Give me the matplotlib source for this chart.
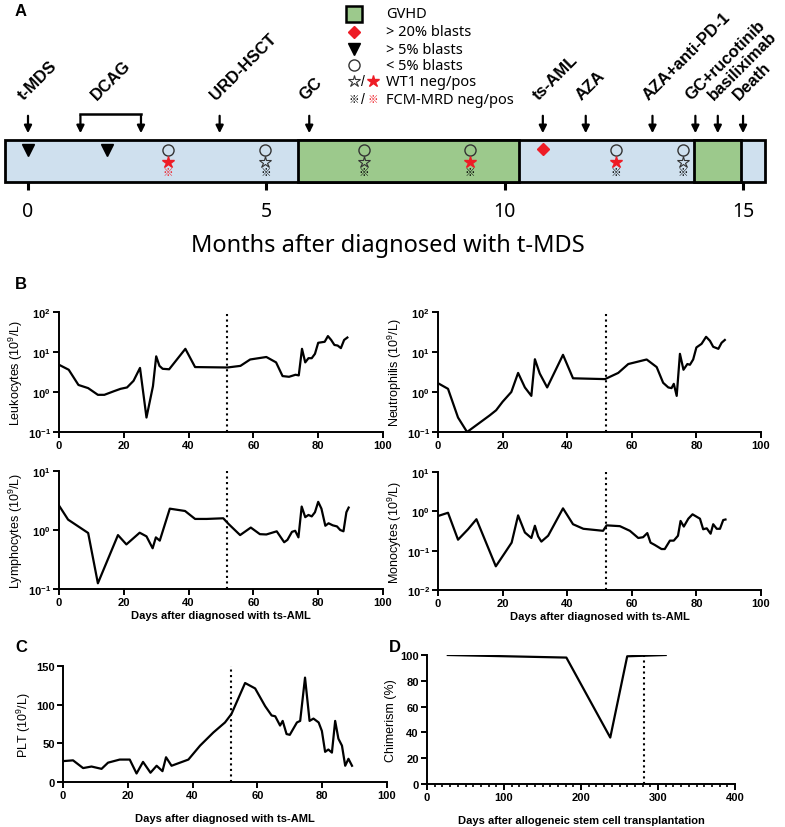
import numpy as np
import matplotlib.pyplot as plt
from matplotlib.patches import Rectangle
from matplotlib.ticker import MultipleLocator, NullLocator

plt.rcParams["font.family"] = ["Liberation Sans", "DejaVu Sans"]
plt.rcParams["mathtext.fontset"] = "custom"
plt.rcParams["mathtext.rm"] = "Liberation Sans"
plt.rcParams["mathtext.bf"] = "Liberation Sans:bold"

# ---------------- data ----------------
# panel A (months after t-MDS)
events = ["t-MDS", "URD-HSCT", "GC", "ts-AML", "AZA", "AZA+anti-PD-1",
          "GC+rucotinib", "basiliximab", "Death"]
event_month = [0, 4.02, 5.9, 10.8, 11.7, 13.1, 14.0, 14.47, 15.0]
dcag_month = [1.1, 2.37]
timeline_span = [-0.48, 15.45]
gvhd_spans = [(5.66, 10.3), (13.98, 14.95)]
tri_month = [0, 1.65]
diamond_month = [10.8]
circle_month = [2.94, 4.98, 7.05, 9.27, 12.33, 13.73]
wt1_pos = [True, False, False, True, True, False]
fcm_pos = [True, False, False, False, False, False]

# panel B (days after ts-AML)
leu_day = [0, 3, 6, 9, 12, 14, 17, 19, 21, 23, 25, 27, 29, 30, 31, 32, 34, 39, 42,
           52, 56, 59, 64, 67, 69, 71, 73, 74, 75, 76, 77, 78, 79, 80, 82, 83, 84,
           85, 86, 87, 88, 89]
leu_val = [4.8, 3.6, 1.5, 1.25, 0.85, 0.85, 1.05, 1.2, 1.3, 1.9, 4.0, 0.23, 1.4, 7.8,
           4.5, 3.8, 3.7, 12, 4.2, 4.1, 4.5, 6.5, 7.5, 5.5, 2.5, 2.4, 2.7, 2.6, 12,
           5.5, 7.0, 7.0, 9.0, 17, 18, 25, 20, 15, 14.5, 12.5, 20, 23]

neu_day = [0, 3.1, 6.2, 9, 16, 18, 20, 22.7, 24.8, 26.9, 28.9, 30, 31.5, 33.8, 38.7,
           41.8, 51.7, 55.8, 58.9, 64.6, 67.7, 69.7, 71.3, 72.3, 73, 73.9, 74.9, 76,
           77.2, 78, 79, 80, 81.6, 83, 84.2, 85.2, 86.8, 87.8, 88.8]
neu_val = [1.66, 1.2, 0.23, 0.1, 0.26, 0.35, 0.57, 1.0, 3.0, 1.3, 0.8, 6.6, 2.9, 1.3,
           8.5, 2.2, 2.1, 3.0, 5.0, 6.5, 4.2, 1.7, 1.3, 1.25, 1.6, 0.8, 9.0, 3.6, 5.0,
           4.8, 6.5, 13, 16, 24, 19, 13.5, 12, 17, 20]

lym_day = [0, 2.8, 9, 12, 18.2, 20.8, 24.9, 27, 28.9, 29.9, 31.1, 34.2, 38.9, 42,
           45.6, 50.7, 52.3, 55.9, 59.2, 62, 64, 67.2, 69.5, 70.5, 71.9, 72.9, 73.9,
           74.9, 76, 77, 78, 79, 80, 81, 82.2, 83.2, 84.5, 85.8, 86.8, 87.8, 88.7, 89.4]
lym_val = [2.6, 1.5, 0.89, 0.125, 0.82, 0.57, 0.9, 0.78, 0.49, 0.75, 0.66, 2.3, 2.1,
           1.54, 1.54, 1.58, 1.27, 0.82, 1.1, 0.85, 0.84, 0.95, 0.62, 0.68, 0.93,
           0.97, 0.75, 2.5, 1.65, 1.8, 1.7, 2.0, 3.0, 2.3, 1.18, 1.3, 1.2, 1.15, 1.0,
           0.95, 2.0, 2.4]

mon_day = [0, 3.1, 6.2, 9.3, 11.9, 17.9, 20.7, 22.8, 24.8, 26.9, 28.9, 30, 31, 32,
           34.1, 38.7, 41.8, 45, 51.1, 52.2, 56.3, 59.4, 62, 63.5, 64.8, 65.8, 67.1,
           69.2, 70.2, 71.8, 73, 74.3, 75.1, 76.1, 77.5, 78.8, 81.1, 82.1, 83.2, 84.4,
           85.2, 86.3, 87.3, 88.3, 89]
mon_val = [0.76, 0.92, 0.19, 0.35, 0.63, 0.04, 0.088, 0.16, 0.79, 0.29, 0.21, 0.43,
           0.23, 0.17, 0.24, 1.19, 0.47, 0.36, 0.32, 0.44, 0.42, 0.32, 0.21, 0.22,
           0.28, 0.16, 0.14, 0.11, 0.11, 0.18, 0.18, 0.24, 0.57, 0.41, 0.65, 0.84,
           0.65, 0.35, 0.37, 0.27, 0.47, 0.36, 0.36, 0.6, 0.62]

# panel C
plt_day = [0, 3.1, 6.2, 8.8, 11.9, 13.9, 17.5, 20.6, 22.7, 24.7, 27, 28.9, 30.7,
           31.8, 33.5, 36.1, 38.7, 42.3, 46.4, 50, 52, 56.2, 59.3, 62.4, 64.4, 65.5,
           67, 67.8, 69, 70, 72.2, 73.2, 74.7, 76.1, 77.3, 78.9, 79.9, 80.9, 81.9, 83,
           84, 85, 86.1, 87.1, 88.1, 89.2]
plt_val = [27, 28, 18, 20, 17, 25, 29, 29, 11, 26, 12, 21, 14, 32, 21, 25, 29, 47, 64,
           77, 88, 128, 121, 98, 86, 85, 73, 79, 62, 61, 77, 79, 135, 79, 82, 77, 66,
           39, 42, 38, 79, 56, 47, 21, 30, 21]

# panel D
chim_day = [27, 181, 238, 260, 310]
chim_val = [100, 98, 36, 99, 100]

aml_mark = 52
hsct_mark = 282

# ---------------- figure ----------------
W, H = 785, 828
fig = plt.figure(figsize=(W / 100, H / 100), dpi=100)

blue = "#cfe0ee"
green = "#9cc98c"
red = "#ee1c25"
grey = "#333333"
ref_font = ["Noto Sans CJK SC", "DejaVu Sans"]

# ---- panel A ----
axA = fig.add_axes([0, 1 - 228 / H, 1, 228 / H])
px = 47.67
axA.set_xlim(-28 / px, (W - 28) / px)
axA.set_ylim(228, 0)
axA.axis("off")

axA.add_patch(Rectangle((timeline_span[0], 141), timeline_span[1] - timeline_span[0], 42,
                        facecolor=blue, edgecolor="k", lw=2, zorder=1))
for a, b in gvhd_spans:
    axA.add_patch(Rectangle((a, 141), b - a, 42, facecolor=green, edgecolor="k",
                            lw=2, zorder=2))
for m in [0, 5, 10, 15]:
    axA.plot([m, m], [183, 191], color="k", lw=2.2, solid_capstyle="butt")
    axA.text(m, 212, str(m), ha="center", va="center", fontsize=14, family="Noto Sans")

arrow_kw = dict(arrowstyle="-|>", color="k", lw=1.6, mutation_scale=11)
lab_kw = dict(rotation=45, rotation_mode="anchor", ha="left", va="baseline",
              fontsize=12, fontweight="bold")
for m, lab in zip(event_month, events):
    axA.annotate("", xy=(m, 137), xytext=(m, 114), arrowprops=arrow_kw)
    axA.text(m - 0.08, 101, lab, **lab_kw)
axA.plot(dcag_month, [115, 115], color="k", lw=1.8)
for m in dcag_month:
    axA.annotate("", xy=(m, 137), xytext=(m, 114), arrowprops=arrow_kw)
axA.text(np.mean(dcag_month) - 0.3, 101, "DCAG", **lab_kw)

axA.plot(tri_month, [151] * len(tri_month), "v", color="k", ms=8, zorder=5)
axA.plot(diamond_month, [150], "D", color=red, ms=6, zorder=5)
axA.plot(circle_month, [151] * len(circle_month), "o", mfc="none", mec=grey, mew=1,
         ms=8, zorder=5)
for m, w, f in zip(circle_month, wt1_pos, fcm_pos):
    if w:
        axA.plot(m, 163, "*", color=red, ms=9, zorder=5)
    else:
        axA.plot(m, 163, "*", mfc="none", mec=grey, mew=0.8, ms=9, zorder=5)
    axA.text(m, 173.5, "※", color=red if f else "k", ha="center", va="center",
             fontsize=7.5, family=ref_font, zorder=5)

# legend of panel A
lx, tx = (354 - 28) / px, (386 - 28) / px
axA.plot(lx, 15, "s", mfc=green, mec="k", mew=1.8, ms=11)
axA.plot(lx, 33, "D", color=red, ms=6)
axA.plot(lx, 50, "v", color="k", ms=8)
axA.plot(lx, 66, "o", mfc="none", mec=grey, mew=1, ms=8)
axA.plot(lx, 82, "*", mfc="none", mec=grey, mew=0.8, ms=9)
axA.text((363 - 28) / px, 82, "/", ha="center", va="center", fontsize=10)
axA.plot((373 - 28) / px, 82, "*", color=red, ms=9)
axA.text(lx, 100, "※", ha="center", va="center", fontsize=7.5, family=ref_font)
axA.text((363 - 28) / px, 100, "/", ha="center", va="center", fontsize=10)
axA.text((373 - 28) / px, 100, "※", color=red, ha="center", va="center", fontsize=7.5,
         family=ref_font)
leg_text = ["GVHD", "> 20% blasts", "> 5% blasts", "< 5% blasts", "WT1 neg/pos",
            "FCM-MRD neg/pos"]
for y, t in zip([15, 33, 50, 66, 82, 100], leg_text):
    axA.text(tx, y, t, ha="left", va="center", fontsize=10.5, family="Noto Sans")

fig.text(15 / W, 1 - 12 / H, "A", fontsize=12, fontweight="bold", va="center")
fig.text(388 / W, 1 - 246 / H, "Months after diagnosed with t-MDS", ha="center",
         va="center", fontsize=17, family="Noto Sans")
fig.text(15 / W, 1 - 285 / H, "B", fontsize=12, fontweight="bold", va="center")
fig.text(15 / W, 1 - 647 / H, "C", fontsize=12, fontweight="bold", va="center")
fig.text(389 / W, 1 - 647 / H, "D", fontsize=12, fontweight="bold", va="center")


def style(ax):
    for s in ["top", "right"]:
        ax.spines[s].set_visible(False)
    for s in ["left", "bottom"]:
        ax.spines[s].set_linewidth(1.4)
    ax.tick_params(which="major", width=1.4, length=4, labelsize=8, pad=2)
    ax.tick_params(which="minor", width=1.2, length=2.5)


def log_axis(ax, lo, hi):
    ax.set_yscale("log")
    ax.set_ylim(10.0 ** lo, 10.0 ** hi)
    ex = list(range(lo, hi + 1))
    ax.set_yticks([10.0 ** e for e in ex],
                  [r"$\mathbf{10^{%d}}$" % e for e in ex])
    ax.yaxis.set_minor_locator(NullLocator())


def days_axis(ax):
    ax.set_xlim(0, 100)
    ax.set_xticks(range(0, 101, 20), [str(v) for v in range(0, 101, 20)],
                  fontweight="bold")


def add(l, t, r, b):
    return fig.add_axes([l / W, 1 - b / H, (r - l) / W, (b - t) / H])


panels = [
    (add(59, 313, 383, 433), leu_day, leu_val, -1, 2, "Leukocytes (10$^9$/L)", False),
    (add(438, 313, 761, 433), neu_day, neu_val, -1, 2, "Neutrophilis (10$^9$/L)", False),
    (add(59, 472, 383, 590), lym_day, lym_val, -1, 1, "Lymphocytes (10$^9$/L)", True),
    (add(438, 473, 761, 591), mon_day, mon_val, -2, 1, "Monocytes (10$^9$/L)", True),
]
for ax, d, v, lo, hi, lab, xl in panels:
    ax.plot(d, v, color="k", lw=1.6)
    ax.axvline(aml_mark, color="k", ls=":", lw=1.5)
    log_axis(ax, lo, hi)
    days_axis(ax)
    style(ax)
    ax.set_ylabel(lab, fontsize=9, labelpad=2)
    if xl:
        ax.set_xlabel("Days after diagnosed with ts-AML", fontsize=8, fontweight="bold",
                      labelpad=2)

axC = add(63, 667, 387, 783)
axC.plot(plt_day, plt_val, color="k", lw=1.6)
axC.axvline(aml_mark, color="k", ls=":", lw=1.5)
axC.set_ylim(0, 150)
axC.set_yticks([0, 50, 100, 150], ["0", "50", "100", "150"], fontweight="bold")
days_axis(axC)
style(axC)
axC.set_ylabel("PLT (10$^9$/L)", fontsize=9, labelpad=2)
axC.set_xlabel("Days after diagnosed with ts-AML", fontsize=8, fontweight="bold",
               labelpad=9)

axD = add(427, 656, 735, 785)
axD.plot(chim_day, chim_val, color="k", lw=1.6)
axD.plot([hsct_mark, hsct_mark], [0, 100], color="k", ls=":", lw=1.5)
axD.set_ylim(0, 100)
axD.set_xlim(0, 400)
axD.set_yticks(range(0, 101, 20), [str(v) for v in range(0, 101, 20)],
               fontweight="bold")
axD.set_xticks(range(0, 401, 100), [str(v) for v in range(0, 401, 100)],
               fontweight="bold")
axD.xaxis.set_minor_locator(MultipleLocator(10))
style(axD)
axD.set_ylabel("Chimerism (%)", fontsize=9, labelpad=2)
axD.set_xlabel("Days after allogeneic stem cell transplantation", fontsize=8,
               fontweight="bold", labelpad=9)

fig.savefig("out.png", dpi=100)
